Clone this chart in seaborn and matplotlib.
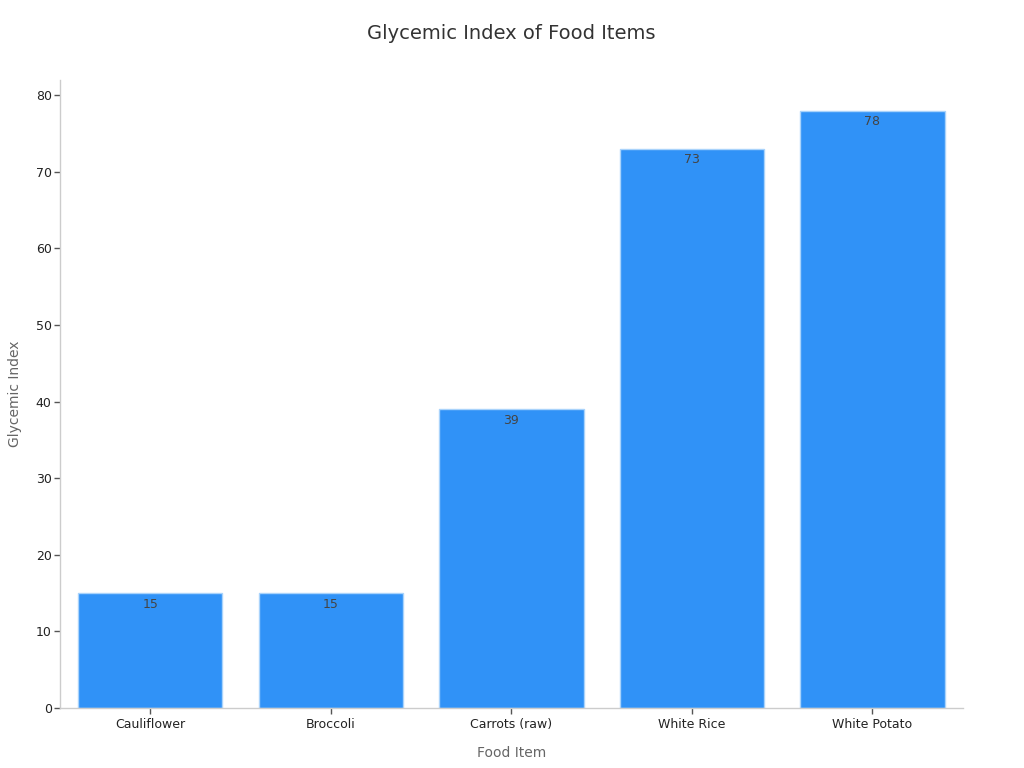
import pandas as pd
import matplotlib
matplotlib.use('Agg')
import matplotlib.pyplot as plt
import seaborn as sns

# data
foods = ['Cauliflower', 'Broccoli', 'Carrots (raw)', 'White Rice', 'White Potato']
gi_values = [15, 15, 39, 73, 78]

df = pd.DataFrame({'Food Item': foods, 'Glycemic Index': gi_values})

sns.set_style('white', {'xtick.bottom': True, 'ytick.left': True})
plt.rcParams['font.family'] = ['DejaVu Sans']

fig = plt.figure(figsize=(10.24, 7.68), dpi=100)
ax = fig.add_axes([0.0586, 0.078, 0.8815, 0.818])

sns.barplot(data=df, x='Food Item', y='Glycemic Index', color='#3092F7',
            saturation=1, width=0.8, edgecolor='#A9D3FB', linewidth=1, ax=ax)

# value labels just inside the top of each bar
for container in ax.containers:
    ax.bar_label(container, label_type='edge', padding=-12.5, fontsize=9, color='#444444')

ax.set_xlim(-0.5, 4.5)
ax.set_ylim(0, 82)
ax.set_yticks(range(0, 81, 10))

ax.set_title('Glycemic Index of Food Items', fontsize=14, color='#333333', pad=29.5)
ax.set_xlabel('Food Item', fontsize=10, color='#666666', labelpad=11)
ax.set_ylabel('Glycemic Index', fontsize=10, color='#666666', labelpad=10)

for side in ['top', 'right']:
    ax.spines[side].set_visible(False)
for side in ['left', 'bottom']:
    ax.spines[side].set_color('#CCCCCC')
    ax.spines[side].set_linewidth(1)

ax.tick_params(axis='both', labelsize=9, labelcolor='#222222', color='#555555',
               length=4, width=1, pad=2)
ax.tick_params(axis='x', pad=3)

fig.savefig('out.png', dpi=100)
